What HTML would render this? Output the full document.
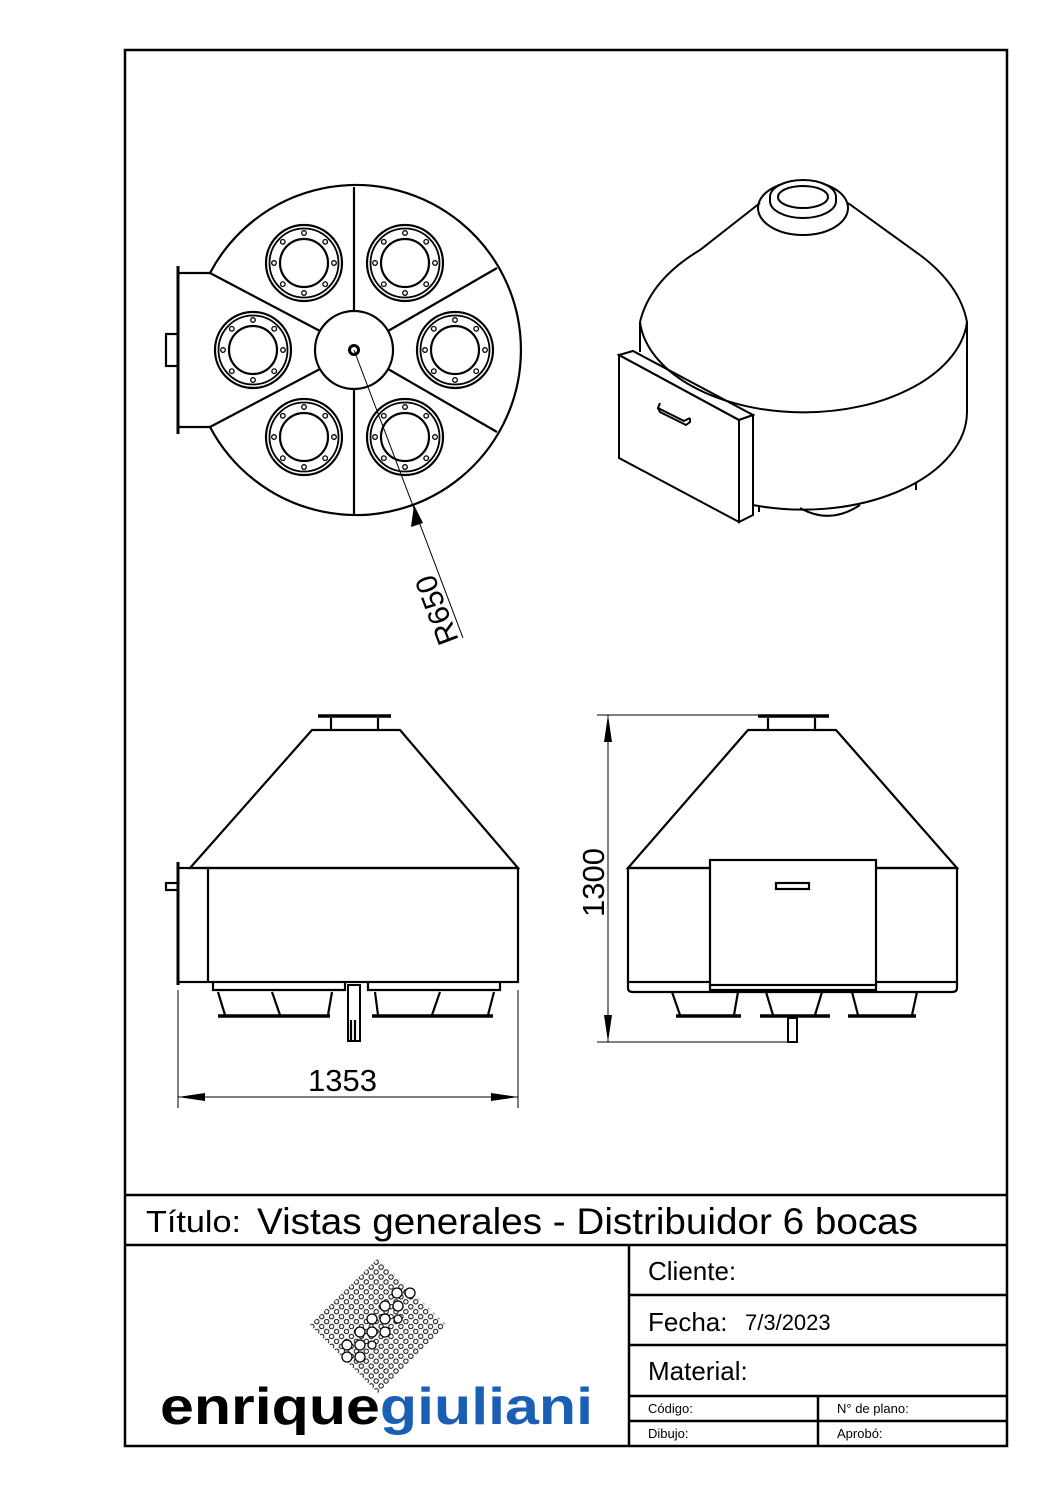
<!DOCTYPE html>
<html><head><meta charset="utf-8"><style>
html,body{margin:0;padding:0;background:#fff}
svg{display:block}
text{font-family:"Liberation Sans",sans-serif}
</style></head><body>
<svg width="1058" height="1497" viewBox="0 0 1058 1497" xmlns="http://www.w3.org/2000/svg">
<defs>
<g id="port" fill="none" stroke="#000">
<circle r="38" stroke-width="2.2"/><circle r="34.5" stroke-width="1.8"/><circle r="24" stroke-width="2.2"/>
<g fill="none" stroke-width="1.3">
<circle cx="30" cy="0" r="2.3"/><circle cx="-30" cy="0" r="2.3"/><circle cx="0" cy="30" r="2.3"/><circle cx="0" cy="-30" r="2.3"/>
<circle cx="21.2" cy="21.2" r="2.3"/><circle cx="-21.2" cy="21.2" r="2.3"/><circle cx="21.2" cy="-21.2" r="2.3"/><circle cx="-21.2" cy="-21.2" r="2.3"/>
</g></g>
<pattern id="dots" width="7" height="7" patternUnits="userSpaceOnUse" patternTransform="rotate(45)">
<circle cx="3.5" cy="3.5" r="2.2" fill="none" stroke="#000" stroke-width="1"/>
</pattern>
<clipPath id="dia"><polygon points="378,1258 446,1325 378,1393 310,1325"/></clipPath>
</defs>
<rect width="1058" height="1497" fill="#fff"/>
<rect x="125" y="50" width="882" height="1396" fill="none" stroke="#000" stroke-width="2.5"/>
<g stroke="#000" stroke-width="2.5">
<line x1="125" y1="1195" x2="1007" y2="1195"/>
<line x1="125" y1="1245" x2="1007" y2="1245"/>
<line x1="629" y1="1245" x2="629" y2="1446"/>
<line x1="629" y1="1295" x2="1007" y2="1295"/>
<line x1="629" y1="1345" x2="1007" y2="1345"/>
<line x1="629" y1="1396" x2="1007" y2="1396"/>
<line x1="629" y1="1421" x2="1007" y2="1421"/>
<line x1="818" y1="1396" x2="818" y2="1446"/>
</g>
<text x="146" y="1232" font-size="31" textLength="95" lengthAdjust="spacingAndGlyphs">Título:</text>
<text x="257" y="1234" font-size="37" textLength="661" lengthAdjust="spacingAndGlyphs">Vistas generales - Distribuidor 6 bocas</text>
<text x="648" y="1280" font-size="26">Cliente:</text>
<text x="648" y="1331" font-size="26">Fecha:</text>
<text x="745" y="1330" font-size="22">7/3/2023</text>
<text x="648" y="1380" font-size="26">Material:</text>
<text x="648" y="1413" font-size="13">Código:</text>
<text x="837" y="1413" font-size="13">N° de plano:</text>
<text x="648" y="1438" font-size="13">Dibujo:</text>
<text x="837" y="1438" font-size="13">Aprobó:</text>
<g clip-path="url(#dia)"><rect x="305" y="1255" width="145" height="145" fill="url(#dots)"/></g>
<g fill="#fff" stroke="#000" stroke-width="1.3">
<circle cx="397" cy="1293" r="5"/><circle cx="410" cy="1293" r="5"/><circle cx="385" cy="1306" r="5"/><circle cx="398" cy="1306" r="5"/><circle cx="372" cy="1319" r="5"/><circle cx="385" cy="1319" r="5"/><circle cx="398" cy="1319" r="4"/><circle cx="360" cy="1332" r="5"/><circle cx="372" cy="1332" r="5"/><circle cx="385" cy="1332" r="5"/><circle cx="347" cy="1345" r="5"/><circle cx="360" cy="1345" r="5"/><circle cx="372" cy="1345" r="4"/><circle cx="347" cy="1357" r="5"/><circle cx="360" cy="1357" r="5"/>
</g>
<text x="160" y="1424" font-size="52" font-weight="bold" textLength="433" lengthAdjust="spacingAndGlyphs"><tspan fill="#000">enrique</tspan><tspan fill="#1a5fb4">giuliani</tspan></text>

<g fill="none" stroke="#000" stroke-width="2.2">
<path d="M210,273 A165,165 0 1 1 210,427"/>
<line x1="210" y1="273" x2="178" y2="273"/><line x1="210" y1="427" x2="178" y2="427"/>
<line x1="178" y1="266" x2="178" y2="434" stroke-width="3"/>
<rect x="166" y="334" width="12" height="32"/>
<circle cx="354" cy="350" r="39"/>
<line x1="354" y1="187" x2="354" y2="311"/><line x1="354" y1="389" x2="354" y2="515"/>
<line x1="210" y1="273" x2="320" y2="331"/><line x1="210" y1="427" x2="320" y2="369"/>
<line x1="497" y1="268" x2="388" y2="331"/><line x1="497" y1="432" x2="388" y2="369"/>
<circle cx="354" cy="350" r="4.5" stroke-width="3"/>
</g>
<use href="#port" x="304" y="263"/><use href="#port" x="405" y="263"/>
<use href="#port" x="253" y="350"/><use href="#port" x="455" y="350"/>
<use href="#port" x="304" y="437"/><use href="#port" x="405" y="437"/>
<line x1="354" y1="350" x2="463" y2="638" stroke="#000" stroke-width="1"/>
<polygon points="414,505 411,527 423,523" fill="#000"/>
<text x="0" y="0" font-size="30" transform="translate(459,640) rotate(-110.7)">R650</text>

<g fill="none" stroke="#000" stroke-width="2">
<path d="M640,322 A164,98 0 0 0 967,322"/>
<path d="M640,322 Q650,280 700,250 L760,203"/>
<path d="M967,322 Q960,285 920,255 L848,203"/>
<ellipse cx="803" cy="208" rx="45" ry="27"/>
<path d="M770,197 A33,17 0 1 1 836,197 L836,201 A33,17 0 0 1 770,201 Z" fill="#fff"/>
<ellipse cx="803" cy="197" rx="25" ry="11"/>
<line x1="967" y1="322" x2="967" y2="412"/>
<line x1="640" y1="322" x2="640" y2="352"/>
<path d="M967,412 A164,98 0 0 1 753,505"/>
<path d="M800,508 Q830,525 860,505" />
<polygon points="619,355 739,420 739,522 619,458" fill="#fff"/>
<polygon points="619,355 633,351 753,415 739,420"/>
<polygon points="739,420 753,415 753,515 739,522" fill="#fff"/>
<path d="M660,403 L658,408 L684,421 L690,418 M658,408 L660,412 L686,425 L690,422 L690,418"/>
<line x1="759" y1="506" x2="759" y2="512"/><line x1="916" y1="483" x2="916" y2="490"/>
</g>

<g fill="none" stroke="#000" stroke-width="2.2">
<line x1="318" y1="716" x2="391" y2="716" stroke-width="3.5"/>
<line x1="331" y1="718" x2="331" y2="730"/><line x1="378" y1="718" x2="378" y2="730"/>
<path d="M312,730 L400,730 L518,868 L190,868 Z"/>
<rect x="178" y="868" width="340" height="114"/>
<line x1="208" y1="868" x2="208" y2="982"/>
<line x1="178" y1="862" x2="178" y2="985" stroke-width="3"/>
<rect x="166" y="883" width="12" height="7"/>
<path d="M213,982 L213,990 L345,990 L345,982 M368,982 L368,990 L500,990 L500,982"/>
<path d="M218,992 L225,1015 M272,992 L280,1015 M332,992 L328,1015 M375,992 L378,1015 M440,992 L432,1015 M494,992 L488,1015"/>
<line x1="218" y1="1016" x2="330" y2="1016" stroke-width="3.5"/>
<line x1="372" y1="1016" x2="493" y2="1016" stroke-width="3.5"/>
<rect x="348" y="985" width="12" height="56" stroke-width="2"/>
<line x1="351" y1="1020" x2="351" y2="1040"/><line x1="355" y1="1020" x2="355" y2="1040"/>
</g>
<g stroke="#000" stroke-width="1">
<line x1="178" y1="990" x2="178" y2="1108"/><line x1="518" y1="990" x2="518" y2="1108"/>
<line x1="178" y1="1097" x2="518" y2="1097"/>
</g>
<polygon points="178,1097 205,1093 205,1101" fill="#000"/><polygon points="518,1097 491,1093 491,1101" fill="#000"/>
<text x="308" y="1091" font-size="31">1353</text>

<g fill="none" stroke="#000" stroke-width="2.2">
<line x1="758" y1="716" x2="829" y2="716" stroke-width="3.5"/>
<line x1="768" y1="718" x2="768" y2="730"/><line x1="815" y1="718" x2="815" y2="730"/>
<path d="M748,730 L836,730 L957,868 L628,868 Z"/>
<rect x="628" y="868" width="329" height="114"/>
<path d="M628,982 L628,988 Q628,992 633,992 L952,992 Q957,992 957,988 L957,982"/>
<rect x="710" y="860" width="166" height="125" fill="#fff"/>
<path d="M710,985 L710,990 L876,990 L876,985"/>
<rect x="776" y="883" width="33" height="6"/>
<path d="M672,992 L680,1015 M738,992 L734,1015 M766,992 L773,1015 M822,992 L815,1015 M852,992 L858,1015 M917,992 L912,1015"/>
<line x1="676" y1="1016" x2="741" y2="1016" stroke-width="3.5"/>
<line x1="760" y1="1016" x2="830" y2="1016" stroke-width="3.5"/>
<line x1="848" y1="1016" x2="916" y2="1016" stroke-width="3.5"/>
<rect x="788" y="1018" width="9" height="24" stroke-width="2"/>
</g>
<g stroke="#000" stroke-width="1">
<line x1="597" y1="715" x2="760" y2="715"/><line x1="597" y1="1042" x2="790" y2="1042"/>
<line x1="608" y1="715" x2="608" y2="1042"/>
</g>
<polygon points="608,715 604,742 612,742" fill="#000"/><polygon points="608,1042 604,1015 612,1015" fill="#000"/>
<text font-size="31" transform="translate(604,917) rotate(-90)">1300</text>
</svg>
</body></html>
